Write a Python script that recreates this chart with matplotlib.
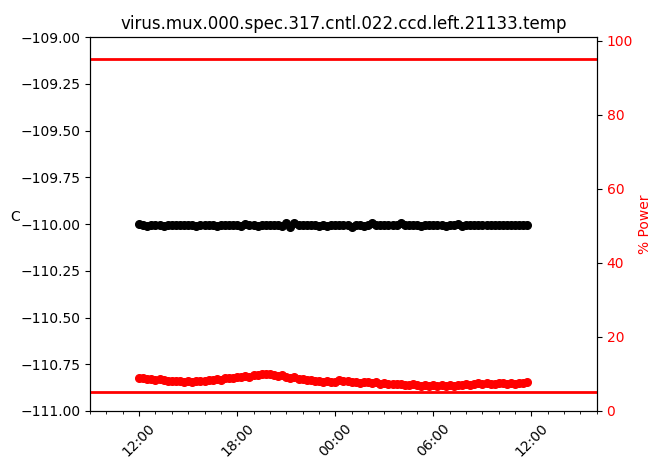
import numpy as np
import pandas as pd
import matplotlib
matplotlib.use("Agg")
import matplotlib.pyplot as plt
import matplotlib.dates as mdates

# 15-minute samples from 12:00 to 11:45 next day
times = pd.date_range("2024-01-01 12:00", periods=96, freq="15min")

temps = [
    -110.000, -110.005, -110.008, -110.004, -110.006, -110.003, -110.010, -110.005,
    -110.004, -110.007, -110.003, -110.006, -110.005, -110.004, -110.008, -110.005,
    -110.003, -110.006, -110.004, -110.009, -110.005, -110.003, -110.006, -110.005,
    -110.004, -110.013, -109.998, -110.006, -110.004, -110.012, -110.003, -110.005,
    -110.006, -110.004, -110.003, -110.010, -109.997, -110.014, -109.996, -110.005,
    -110.004, -110.006, -110.003, -110.005, -110.008, -110.004, -110.013, -110.005,
    -110.004, -110.006, -110.003, -110.007, -110.015, -110.004, -110.003, -110.008,
    -110.004, -109.997, -110.006, -110.005, -110.003, -110.007, -110.004, -110.006,
    -109.996, -110.005, -110.004, -110.003, -110.006, -110.012, -110.004, -110.005,
    -110.003, -110.006, -110.004, -110.008, -110.003, -110.005, -109.998, -110.013,
    -110.004, -110.003, -110.006, -110.005, -110.004, -110.007, -110.003, -110.005,
    -110.004, -110.006, -110.005, -110.003, -110.004, -110.006, -110.005, -110.004,
]

power = [
    8.8, 8.9, 8.6, 8.7, 8.5, 8.6, 8.3, 8.2,
    8.1, 8.0, 8.2, 7.9, 8.0, 7.9, 8.1, 8.0,
    8.2, 8.4, 8.3, 8.6, 8.5, 8.8, 9.0, 8.9,
    9.2, 9.1, 9.4, 9.3, 9.6, 9.8, 10.1, 9.9,
    10.0, 9.7, 9.5, 9.6, 9.3, 9.0, 9.1, 8.7,
    8.6, 8.4, 8.5, 8.2, 8.1, 7.9, 8.0, 7.8,
    7.9, 8.3, 8.0, 8.2, 7.8, 7.9, 7.6, 7.7,
    7.8, 7.5, 7.7, 7.4, 7.5, 7.3, 7.4, 7.2,
    7.3, 7.1, 7.0, 7.2, 6.9, 6.8, 7.0, 6.8,
    6.9, 6.7, 6.9, 6.8, 7.0, 6.8, 7.1, 6.9,
    7.2, 7.0, 7.3, 7.5, 7.3, 7.6, 7.4, 7.3,
    7.5, 7.6, 7.3, 7.5, 7.4, 7.6, 7.5, 7.7,
]

setpoint = -110.0
power_limits = [95, 5]
xstart = pd.Timestamp("2024-01-01 09:00")
xend = pd.Timestamp("2024-01-02 16:00")

fig = plt.figure(figsize=(6.53, 4.61), dpi=100)
ax = fig.add_axes([0.138, 0.1085, 0.776, 0.811])

ax.plot(times, [setpoint] * len(times), color="green", lw=1, zorder=1)
ax.plot(times, temps, "o", color="black", ms=5.5, zorder=2)
ax.set_ylim(-111, -109)
ax.set_yticks(np.arange(-111, -108.99, 0.25))
ax.set_ylabel("C", rotation=0)
ax.set_title("virus.mux.000.spec.317.cntl.022.ccd.left.21133.temp")

ax.set_xlim(xstart, xend)
ax.xaxis.set_major_locator(mdates.HourLocator(byhour=[0, 6, 12, 18]))
ax.xaxis.set_minor_locator(mdates.HourLocator())
ax.xaxis.set_major_formatter(mdates.DateFormatter("%H:%M"))
plt.setp(ax.get_xticklabels(), rotation=45)

ax2 = ax.twinx()
ax2.plot(times, power, "o", color="red", ms=5.5)
for lim in power_limits:
    ax2.axhline(lim, color="red", lw=2)
ax2.set_ylim(0, 101)
ax2.set_ylabel("% Power", color="red")
ax2.tick_params(axis="y", labelcolor="red")

fig.savefig("out.png", dpi=100)
